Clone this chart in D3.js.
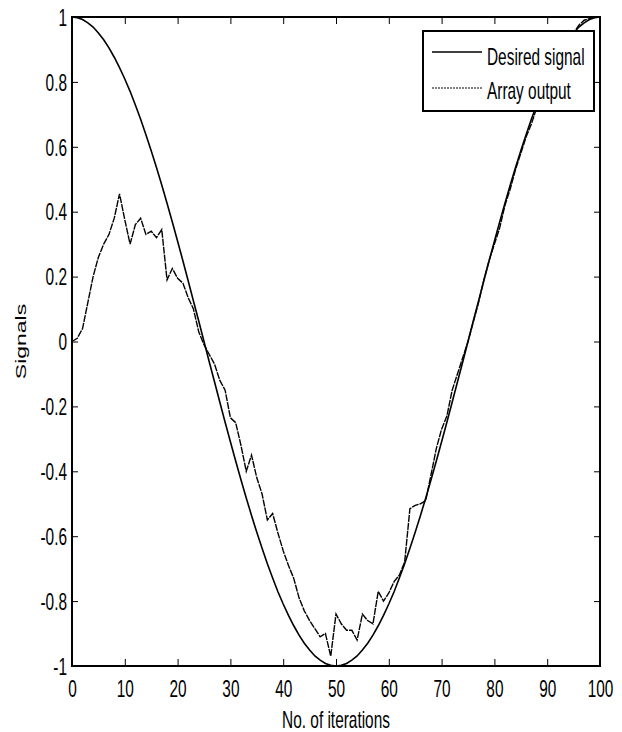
<!DOCTYPE html>
<html>
<head>
<meta charset="utf-8">
<script src="https://cdn.jsdelivr.net/npm/d3@7.9.0/dist/d3.min.js"></script>
<style>
  body { margin: 0; background: #fff; }
  text { font-family: "Liberation Sans", Arial, sans-serif; fill: #000; }
</style>
</head>
<body>
<div class="container"></div>
<script>
// iteration index 0..100
const iterations = d3.range(0, 101);

// Desired signal
const desired = [
  1.000, 0.998, 0.992, 0.982, 0.969, 0.951, 0.930, 0.905, 0.876, 0.844,
  0.809, 0.771, 0.729, 0.685, 0.637, 0.588, 0.536, 0.482, 0.426, 0.368,
  0.309, 0.249, 0.187, 0.125, 0.063, 0.000, -0.063, -0.125, -0.187, -0.249,
  -0.309, -0.368, -0.426, -0.482, -0.536, -0.588, -0.637, -0.685, -0.729, -0.771,
  -0.809, -0.844, -0.876, -0.905, -0.930, -0.951, -0.969, -0.982, -0.992, -0.998,
  -1.000, -0.998, -0.992, -0.982, -0.969, -0.951, -0.930, -0.905, -0.876, -0.844,
  -0.809, -0.771, -0.729, -0.685, -0.637, -0.588, -0.536, -0.482, -0.426, -0.368,
  -0.309, -0.249, -0.187, -0.125, -0.063, 0.000, 0.063, 0.125, 0.187, 0.249,
  0.309, 0.368, 0.426, 0.482, 0.536, 0.588, 0.637, 0.685, 0.729, 0.771,
  0.809, 0.844, 0.876, 0.905, 0.930, 0.951, 0.969, 0.982, 0.992, 0.998,
  1.000
];

// Array output
const arrayOutput = [
  0.00, 0.01, 0.04, 0.12, 0.20, 0.26, 0.30, 0.33, 0.38, 0.455,
  0.375, 0.30, 0.36, 0.38, 0.33, 0.34, 0.32, 0.345, 0.19, 0.225,
  0.195, 0.18, 0.135, 0.10, 0.03, -0.01, -0.04, -0.07, -0.12, -0.15,
  -0.235, -0.25, -0.32, -0.40, -0.35, -0.42, -0.47, -0.55, -0.53, -0.59,
  -0.645, -0.69, -0.73, -0.79, -0.83, -0.86, -0.885, -0.91, -0.90, -0.97,
  -0.84, -0.87, -0.89, -0.89, -0.92, -0.84, -0.86, -0.87, -0.77, -0.80,
  -0.775, -0.74, -0.72, -0.68, -0.515, -0.505, -0.50, -0.49, -0.41, -0.33,
  -0.27, -0.23, -0.15, -0.10, -0.05, 0.00, 0.06, 0.12, 0.19, 0.25,
  0.30, 0.35, 0.42, 0.47, 0.53, 0.58, 0.63, 0.67, 0.72, 0.76,
  0.80, 0.84, 0.87, 0.90, 0.93, 0.95, 0.975, 0.99, 0.995, 1.00,
  1.00
];

const xTicks = [0, 10, 20, 30, 40, 50, 60, 70, 80, 90, 100];
const yTicks = [-1, -0.8, -0.6, -0.4, -0.2, 0, 0.2, 0.4, 0.6, 0.8, 1];
const legendLabels = ["Desired signal", "Array output"];

const width = 622, height = 732;
const plotLeft = 72, plotRight = 600, plotTop = 17, plotBottom = 666;
const squeeze = 0.67; // the glyphs in the picture are narrow
const fontSize = 23;

const svg = d3.select(".container")
  .append("svg")
  .attr("width", width)
  .attr("height", height);

svg.append("rect").attr("width", width).attr("height", height).attr("fill", "#fff");

const x = d3.scaleLinear().domain([0, 100]).range([plotLeft, plotRight]);
const y = d3.scaleLinear().domain([-1, 1]).range([plotBottom, plotTop]);

// bottom axis, ticks pointing inward
const xAxis = svg.append("g")
  .attr("transform", `translate(0,${plotBottom})`)
  .call(d3.axisBottom(x).tickValues(xTicks).tickSize(-7).tickFormat(d3.format("d")));
xAxis.select(".domain").remove();
xAxis.selectAll("line").attr("stroke", "#000").attr("stroke-width", 1);
xAxis.selectAll("text")
  .attr("y", 31).attr("dy", 0)
  .attr("transform", `scale(${squeeze},1)`)
  .style("font-size", fontSize + "px");

// top ticks
svg.append("g")
  .attr("transform", `translate(0,${plotTop})`)
  .call(d3.axisTop(x).tickValues(xTicks).tickSize(-7).tickFormat(""))
  .call(g => g.select(".domain").remove())
  .selectAll("line").attr("stroke", "#000");

// left axis
const yAxis = svg.append("g")
  .attr("transform", `translate(${plotLeft},0)`)
  .call(d3.axisLeft(y).tickValues(yTicks).tickSize(-6).tickFormat(d => String(d)));
yAxis.select(".domain").remove();
yAxis.selectAll("line").attr("stroke", "#000");
yAxis.selectAll("text")
  .attr("x", -5 / squeeze).attr("dy", "0.36em")
  .attr("transform", `scale(${squeeze},1)`)
  .style("font-size", fontSize + "px");

// right ticks
svg.append("g")
  .attr("transform", `translate(${plotRight},0)`)
  .call(d3.axisRight(y).tickValues(yTicks).tickSize(-6).tickFormat(""))
  .call(g => g.select(".domain").remove())
  .selectAll("line").attr("stroke", "#000");

// lines
const line = d3.line()
  .x((d, i) => x(iterations[i]))
  .y(d => y(d));

svg.append("path")
  .datum(desired)
  .attr("d", line)
  .attr("fill", "none")
  .attr("stroke", "#000")
  .attr("stroke-width", 1.6);

svg.append("path")
  .datum(arrayOutput)
  .attr("d", line)
  .attr("fill", "none")
  .attr("stroke", "#000")
  .attr("stroke-width", 1.4)
  .attr("stroke-dasharray", "7,1");

// plot box
svg.append("rect")
  .attr("x", plotLeft).attr("y", plotTop)
  .attr("width", plotRight - plotLeft).attr("height", plotBottom - plotTop)
  .attr("fill", "none")
  .attr("stroke", "#000")
  .attr("stroke-width", 2);

// axis titles
svg.append("text")
  .attr("transform", `translate(${(plotLeft + plotRight) / 2},728) scale(${squeeze},1)`)
  .attr("text-anchor", "middle")
  .style("font-size", fontSize + "px")
  .text("No. of iterations");

svg.append("text")
  .attr("transform", `translate(26,${(plotTop + plotBottom) / 2}) scale(${squeeze},1) rotate(-90)`)
  .attr("text-anchor", "middle")
  .style("font-size", fontSize + "px")
  .text("Signals");

// legend
const legend = svg.append("g");
legend.append("rect")
  .attr("x", 423).attr("y", 31)
  .attr("width", 171).attr("height", 80)
  .attr("fill", "#fff")
  .attr("stroke", "#000")
  .attr("stroke-width", 2);

const legendY = [52, 88];
const legendBase = [65, 99];
legendLabels.forEach((label, i) => {
  legend.append("line")
    .attr("x1", 432).attr("x2", 482)
    .attr("y1", legendY[i]).attr("y2", legendY[i])
    .attr("stroke", "#000")
    .attr("stroke-width", i === 0 ? 1.6 : 1.2)
    .attr("stroke-dasharray", i === 0 ? null : "2,1");
  legend.append("text")
    .attr("transform", `translate(487,${legendBase[i]}) scale(${squeeze},1)`)
    .style("font-size", fontSize + "px")
    .text(label);
});
</script>
</body>
</html>
